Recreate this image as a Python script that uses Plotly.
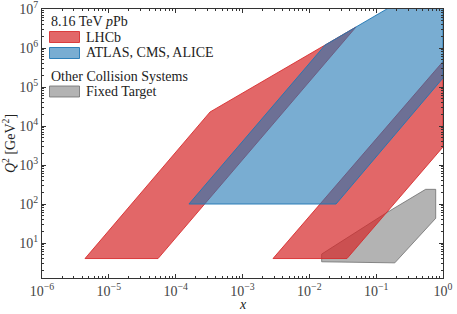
import plotly.graph_objects as go

# LHCb coverage (two bands), x and Q^2 [GeV^2]
lhcb_low_x = [4.4e-6, 3.27e-4, 0.0499, 5.45e-5]
lhcb_low_q2 = [4.0, 2.29e4, 3.45e6, 4.0]
lhcb_high_x = [2.86e-3, 1.0, 1.0, 0.0366]
lhcb_high_q2 = [4.0, 4.5e5, 2.9e3, 4.0]

# ATLAS, CMS, ALICE coverage
gpd_x = [1.58e-4, 0.0172, 1.0, 1.0, 0.0251]
gpd_q2 = [100.0, 1.19e6, 6.95e7, 1.7e5, 100.0]

# Fixed target coverage
ft_x = [0.0153, 0.0153, 0.19, 0.778, 0.778, 0.55, 0.139]
ft_q2 = [5.2, 3.3, 3.1, 43.0, 238.0, 238.0, 58.0]

x_tickvals = [1e-6, 1e-5, 1e-4, 1e-3, 1e-2, 1e-1, 1e0]
x_ticktext = ["10<sup>−6</sup>", "10<sup>−5</sup>", "10<sup>−4</sup>", "10<sup>−3</sup>",
              "10<sup>−2</sup>", "10<sup>−1</sup>", "10<sup>0</sup>"]
y_tickvals = [1e1, 1e2, 1e3, 1e4, 1e5, 1e6, 1e7]
y_ticktext = ["10<sup>1</sup>", "10<sup>2</sup>", "10<sup>3</sup>", "10<sup>4</sup>",
              "10<sup>5</sup>", "10<sup>6</sup>", "10<sup>7</sup>"]

legend_group1_title = "8.16 TeV <i>p</i>Pb"
legend_group2_title = "Other Collision Systems"
name_lhcb = "LHCb"
name_gpd = "ATLAS, CMS, ALICE"
name_ft = "Fixed Target"
x_title = "<i>x</i>"
y_title = "<i>Q</i><sup>2</sup> [GeV<sup>2</sup>]"

FONT = "Liberation Serif"
red_fill = "rgba(214,39,40,0.7)"
red_line = "rgba(214,39,40,0.85)"
blue_fill = "rgba(31,119,180,0.6)"
blue_line = "rgba(31,119,180,0.9)"
gray_fill = "rgba(128,128,128,0.6)"
gray_line = "rgba(110,110,110,0.8)"

W, H = 457, 314
ML, MR, MT, MB = 42, 14, 9, 36
PW, PH = W - ML - MR, H - MT - MB


def px(xp):
    return (xp - ML) / PW


def py(yp):
    return 1 - (yp - MT) / PH


fig = go.Figure()

fig.add_trace(go.Scatter(
    x=ft_x + [ft_x[0]], y=ft_q2 + [ft_q2[0]], fill="toself", mode="lines",
    fillcolor=gray_fill, line=dict(color=gray_line, width=1), name=name_ft,
))
fig.add_trace(go.Scatter(
    x=lhcb_low_x + [lhcb_low_x[0]], y=lhcb_low_q2 + [lhcb_low_q2[0]],
    fill="toself", mode="lines",
    fillcolor=red_fill, line=dict(color=red_line, width=1), name=name_lhcb,
))
fig.add_trace(go.Scatter(
    x=lhcb_high_x + [lhcb_high_x[0]], y=lhcb_high_q2 + [lhcb_high_q2[0]],
    fill="toself", mode="lines",
    fillcolor=red_fill, line=dict(color=red_line, width=1), name=name_lhcb,
))
fig.add_trace(go.Scatter(
    x=gpd_x + [gpd_x[0]], y=gpd_q2 + [gpd_q2[0]], fill="toself", mode="lines",
    fillcolor=blue_fill, line=dict(color=blue_line, width=1), name=name_gpd,
))

axis_common = dict(
    type="log", showgrid=False, zeroline=False, automargin=False,
    showline=True, linecolor="#333", linewidth=1, mirror="allticks",
    ticks="inside", ticklen=4, tickcolor="#333", ticklabeloverflow="allow",
    minor=dict(ticks="inside", ticklen=2, tickcolor="#333", dtick="D1", showgrid=False),
    tickfont=dict(family=FONT, size=14, color="#444"),
)

fig.update_xaxes(**axis_common, range=[-6.0002, 0.0002], tickvals=x_tickvals, ticktext=x_ticktext)
fig.update_yaxes(
    **axis_common, range=[0.103, 7.0003], tickvals=y_tickvals, ticktext=y_ticktext,
    title=dict(text=y_title, font=dict(family=FONT, size=14, color="#222"), standoff=2),
)

annotations = [dict(
    x=0.5, y=py(304), xref="paper", yref="paper", text=x_title,
    showarrow=False, xanchor="center", yanchor="middle",
    font=dict(family=FONT, size=14, color="#222"),
)]

# manual legend (matplotlib-style, no frame)
legend_rows = [
    ("title", legend_group1_title, None, None, 21),
    ("item", name_lhcb, red_fill, red_line, 37),
    ("item", name_gpd, blue_fill, blue_line, 53),
    ("title", legend_group2_title, None, None, 76),
    ("item", name_ft, gray_fill, gray_line, 91.5),
]
shapes = []
for kind, text, fc, lc, yc in legend_rows:
    if kind == "title":
        annotations.append(dict(
            x=px(49), y=py(yc), xref="paper", yref="paper", text=text,
            showarrow=False, xanchor="left", yanchor="middle",
            font=dict(family=FONT, size=14, color="#222"),
        ))
    else:
        shapes.append(dict(
            type="rect", xref="paper", yref="paper",
            x0=px(49.5), x1=px(79.5), y0=py(yc + 5.5), y1=py(yc - 5.5),
            fillcolor=fc, line=dict(color=lc, width=1),
        ))
        annotations.append(dict(
            x=px(84), y=py(yc), xref="paper", yref="paper", text=text,
            showarrow=False, xanchor="left", yanchor="middle",
            font=dict(family=FONT, size=14, color="#222"),
        ))

fig.update_layout(
    width=W, height=H,
    margin=dict(l=ML, r=MR, t=MT, b=MB, autoexpand=False),
    plot_bgcolor="white", paper_bgcolor="white",
    font=dict(family=FONT, size=14, color="#222"),
    showlegend=False,
    shapes=shapes,
    annotations=annotations,
)

fig.write_html(
    "out.html",
    config={"displayModeBar": False},
    post_script="document.body.style.margin='0';document.body.style.overflow='hidden';",
)
